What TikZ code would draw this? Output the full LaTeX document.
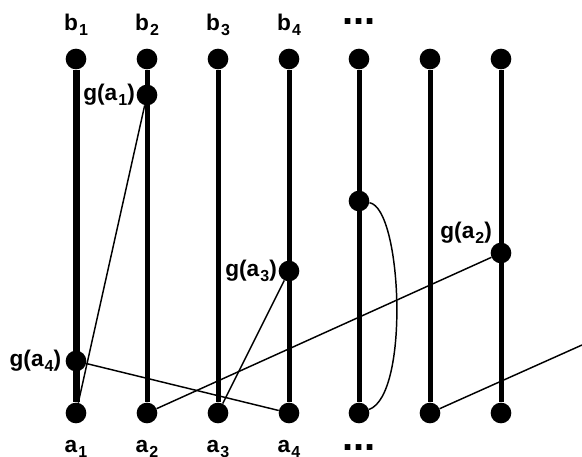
\documentclass[tikz,border=0pt]{standalone}
\usepackage{fontspec}
\setmainfont{Liberation Sans}
\usepackage{tikz}
\newcommand{\idx}[1]{\kern0.8pt\raisebox{-4pt}{\fontsize{12}{14}\selectfont #1}}

\begin{document}
\begin{tikzpicture}[x=0.75pt,y=-0.75pt,font=\bfseries\fontsize{17}{20}\selectfont,
  dot/.style={circle,fill,inner sep=0pt,minimum size=15.5pt},
  bar/.style={line width=3.75pt},
  edge/.style={line width=1.1pt},
  lbl/.style={inner sep=1pt},
  more/.style={font=\bfseries\fontsize{30}{30}\selectfont,anchor=base,inner sep=0pt}]
\useasboundingbox (0,0) rectangle (582,457);

\node[dot] (b1) at (76,59) {};
\node[dot] (b2) at (147,59) {};
\node[dot] (b3) at (218,59) {};
\node[dot] (b4) at (289,59) {};
\node[dot] (b5) at (359,59) {};
\node[dot] (b6) at (430,59) {};
\node[dot] (b7) at (501,59) {};

\node[dot] (a1) at (76,413) {};
\node[dot] (a2) at (147,413) {};
\node[dot] (a3) at (218,413) {};
\node[dot] (a4) at (289,413) {};
\node[dot] (a5) at (359,413) {};
\node[dot] (a6) at (430,413) {};
\node[dot] (a7) at (501,413) {};

\node[dot] (ga1) at (147,95) {};
\node[dot] (ga2) at (501,253) {};
\node[dot] (ga3) at (289,271) {};
\node[dot] (ga4) at (76,361) {};
\node[dot] (c) at (359,201) {};

\node[anchor=base] (lb1) at (76,30) {b\idx{1}};
\node[anchor=base] (lb2) at (147,30) {b\idx{2}};
\node[anchor=base] (lb3) at (218,30) {b\idx{3}};
\node[anchor=base] (lb4) at (289,30) {b\idx{4}};
\node[more] (lb5) at (359,24) {...};

\node[anchor=base] (la1) at (76,452) {a\idx{1}};
\node[anchor=base] (la2) at (147,452) {a\idx{2}};
\node[anchor=base] (la3) at (218,452) {a\idx{3}};
\node[anchor=base] (la4) at (289,452) {a\idx{4}};
\node[more] (la5) at (359,450) {...};

\node[lbl,anchor=east] (lga1) at (ga1.west) {g(a\idx{1})};
\node[lbl,anchor=south east] (lga2) at (ga2.north west) {g(a\idx{2})};
\node[lbl,anchor=east] (lga3) at (ga3.west) {g(a\idx{3})};
\node[lbl,anchor=east,xshift=-2pt] (lga4) at (ga4.west) {g(a\idx{4})};

\draw[bar,line width=5.25pt] (b1) -- (a1);
\draw[bar] (b2) -- (a2);
\draw[bar] (b3) -- (a3);
\draw[bar] (b4) -- (a4);
\draw[bar] (b5) -- (a5);
\draw[bar] (b6) -- (a6);
\draw[bar] (b7) -- (a7);

\draw[edge] (ga1) -- (a1);
\draw[edge] (ga4) -- (a4);
\draw[edge] (a2) -- (ga2);
\draw[edge] (ga3) -- (a3);
\draw[edge] (c) .. controls (402,208) and (410,395) .. (a5);
\coordinate (e) at (582,345);
\draw[edge] (a6) -- (e);
\end{tikzpicture}
\end{document}
